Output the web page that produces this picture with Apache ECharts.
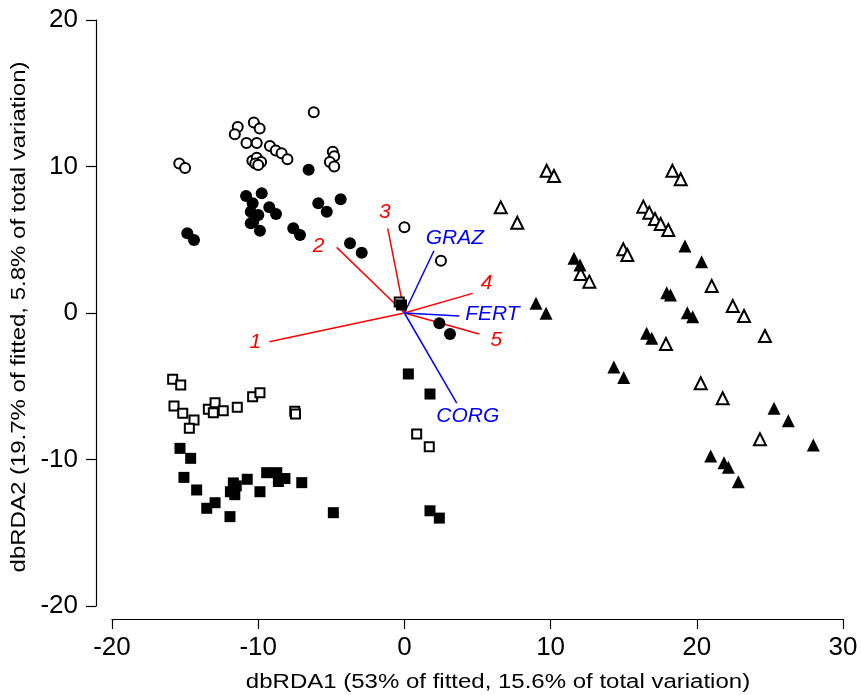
<!DOCTYPE html>
<html><head><meta charset="utf-8">
<script src="https://cdn.jsdelivr.net/npm/echarts@6/dist/echarts.min.js"></script>
<style>html,body{margin:0;padding:0;background:#fff}#c{width:861px;height:695px}</style>
</head><body><div id="c"></div>
<script>
const xTicks = [-20, -10, 0, 10, 20, 30];
const yTicks = [-20, -10, 0, 10, 20];
const xTitle = 'dbRDA1 (53% of fitted, 15.6% of total variation)';
const yTitle = 'dbRDA2 (19.7% of fitted, 5.8% of total variation)';

const openCircles = [[-6.2,13.7],[-11.4,12.7],[-11.6,12.2],[-10.3,13.0],[-9.9,12.6],[-10.8,11.6],[-10.1,11.6],[-9.2,11.4],[-8.8,11.1],[-8.4,10.9],[-8.0,10.5],[-4.9,11.0],[-4.8,10.7],[-5.1,10.3],[-4.8,10.0],[-15.4,10.2],[-15.0,9.9],[-10.4,10.4],[-10.1,10.6],[-9.8,10.3],[-10.2,10.2],[-10.0,10.1],[0.0,5.85],[2.5,3.57]];
const filledCircles = [[-6.55,9.78],[-10.83,7.99],[-9.76,8.17],[-10.38,7.49],[-10.51,6.91],[-9.99,6.69],[-10.34,6.23],[-10.51,6.12],[-9.88,5.62],[-9.24,7.22],[-8.78,6.76],[-5.89,7.49],[-5.31,6.91],[-4.36,7.76],[-7.60,5.78],[-7.14,5.32],[-14.85,5.44],[-14.39,4.98],[-3.72,4.76],[-2.92,4.12],[2.39,-0.70],[3.12,-1.43]];
const openSquares = [[-15.85,-4.53],[-15.3,-4.91],[-15.76,-6.35],[-15.16,-6.85],[-14.39,-7.30],[-14.71,-7.87],[-13.41,-6.57],[-12.95,-6.12],[-13.07,-6.81],[-12.39,-6.67],[-11.43,-6.44],[-10.38,-5.71],[-9.88,-5.44],[-7.5,-6.7],[-7.45,-6.9],[-0.35,0.75],[0.84,-8.26],[1.70,-9.13]];
const filledSquares = [[-15.35,-9.24],[-14.62,-9.92],[-15.08,-11.22],[-14.21,-12.08],[-13.52,-13.33],[-12.95,-12.95],[-11.93,-13.9],[-11.7,-11.6],[-11.9,-12.2],[-11.6,-12.4],[-11.5,-11.8],[-10.75,-11.35],[-9.88,-12.2],[-9.42,-10.9],[-8.73,-10.9],[-8.62,-11.5],[-8.17,-11.3],[-7.02,-11.58],[-4.86,-13.63],[0.27,-4.16],[1.75,-5.53],[1.75,-13.5],[2.39,-14.0],[-0.2,0.55]];
const openTriangles = [[9.73,9.71],[10.23,9.35],[6.59,7.21],[7.72,6.16],[14.97,4.35],[15.25,3.96],[12.06,2.66],[12.65,2.14],[18.33,9.71],[18.9,9.13],[16.34,7.26],[16.75,6.85],[17.14,6.42],[17.53,6.08],[18.05,5.67],[21.02,1.84],[22.46,0.48],[23.23,-0.2],[24.66,-1.57],[17.89,-2.12],[20.27,-4.8],[21.77,-5.82],[24.32,-8.62]];
const filledTriangles = [[11.6,3.73],[12.01,3.28],[9.0,0.66],[9.69,-0.02],[16.57,-1.39],[16.92,-1.73],[17.94,1.39],[18.2,1.23],[19.19,4.57],[20.33,3.5],[19.35,0.02],[19.72,-0.25],[14.33,-3.69],[15.0,-4.4],[25.28,-6.5],[26.26,-7.35],[27.97,-9.01],[20.95,-9.76],[21.86,-10.22],[22.16,-10.53],[22.84,-11.52]];

const speciesNames = ['1','2','3','4','5'];
const speciesVectors = [[-9.24,-1.96],[-4.63,4.48],[-1.14,5.78],[4.67,1.34],[5.12,-1.43]];
const envNames = ['GRAZ','FERT','CORG'];
const envVectors = [[2.02,4.25],[3.76,-0.2],[3.58,-6.16]];

// label offsets (px) relative to vector tips
const speciesLabelOffsets = [[-14,0],[-18,-1],[-3,-16],[14,-10],[17,6]];
const envLabelOffsets = [[21,-13],[33,-2],[11,13]];

const chart = echarts.init(document.getElementById('c'), null, {renderer:'canvas'});
const FONT = '"Liberation Sans", Arial, sans-serif';

function scatter(data, symbol, filled, size) {
  return {
    type: 'scatter', data: data, symbol: symbol, symbolSize: size,
    itemStyle: filled ? {color:'#000', borderWidth:0, opacity:1} : {color:'#fff', borderColor:'#000', borderWidth:2, opacity:1},
    silent: true, z: 3
  };
}
function vectors(names, vecs, color, offsets) {
  const out = [];
  vecs.forEach((v, i) => {
    out.push({type:'line', data:[[0,0], v], symbol:'none', lineStyle:{color:color, width:1.5, opacity:1}, silent:true, z:2});
  });
  out.push({
    type:'scatter', symbolSize:0, silent:true, z:4,
    itemStyle:{opacity:1},
    data: vecs.map((v,i)=>({value:v, name:names[i], label:{offset:offsets[i]}})),
    label:{show:true, position:'inside', formatter:'{b}', color:color, opacity:1, fontSize:21, fontStyle:'italic', fontFamily:FONT, align:'center', verticalAlign:'middle'}
  });
  return out;
}

const option = {
  animation: false,
  backgroundColor: '#fff',
  grid: {left:112, right:18, top:20, bottom:89, containLabel:false},
  xAxis: {
    type:'value', min:xTicks[0], max:xTicks[xTicks.length-1], interval:10,
    position:'bottom', offset:13,
    axisLine:{show:true, onZero:false, lineStyle:{color:'#000', width:1.2}},
    axisTick:{show:true, length:10, lineStyle:{color:'#000', width:1.2}},
    axisLabel:{color:'#000', fontSize:26, fontFamily:FONT, margin:16, formatter: v => String(v)},
    splitLine:{show:false}
  },
  yAxis: {
    type:'value', min:yTicks[0], max:yTicks[yTicks.length-1], interval:10,
    position:'left', offset:16,
    axisLine:{show:true, onZero:false, lineStyle:{color:'#000', width:1.2}},
    axisTick:{show:true, length:10, lineStyle:{color:'#000', width:1.2}},
    axisLabel:{color:'#000', fontSize:26, fontFamily:FONT, margin:18, formatter: v => String(v)},
    splitLine:{show:false}
  },
  graphic: [
    {type:'text', x:498, y:682, scaleX:1.2, style:{text:xTitle, fill:'#000', font:'20px '+FONT, textAlign:'center', textVerticalAlign:'middle'}},
    {type:'text', x:19, y:317, rotation:Math.PI/2, scaleX:1.2, style:{text:yTitle, fill:'#000', font:'20px '+FONT, textAlign:'center', textVerticalAlign:'middle'}}
  ],
  series: [
    ...vectors(speciesNames, speciesVectors, '#ff0000', speciesLabelOffsets),
    ...vectors(envNames, envVectors, '#0000ff', envLabelOffsets),
    scatter(openCircles, 'circle', false, 10),
    scatter(filledCircles, 'circle', true, 12),
    scatter(openSquares, 'rect', false, 9),
    scatter(filledSquares, 'rect', true, 11),
    scatter(openTriangles, 'triangle', false, 12),
    scatter(filledTriangles, 'triangle', true, 13)
  ]
};
chart.setOption(option);
</script>
</body></html>
